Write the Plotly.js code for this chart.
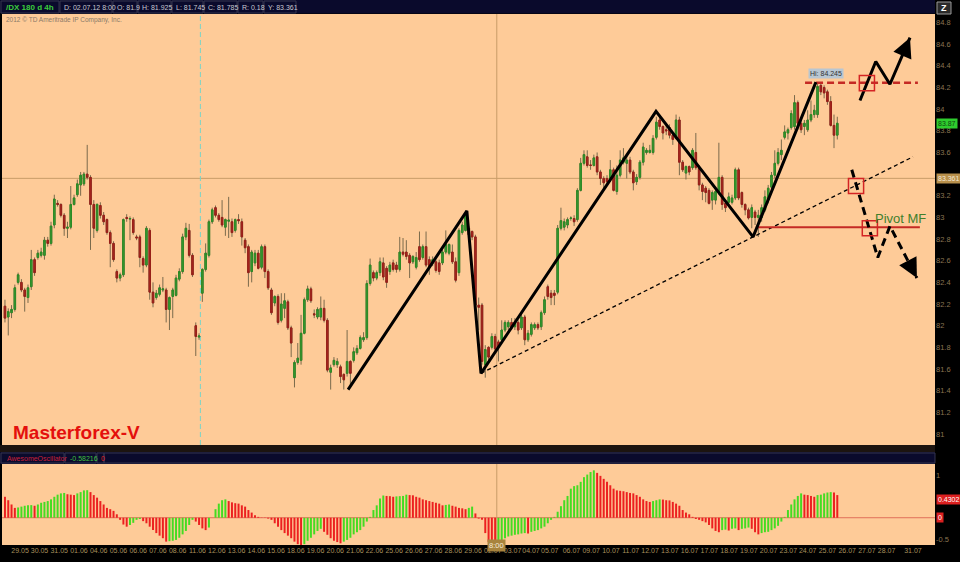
<!DOCTYPE html>
<html>
<head>
<meta charset="utf-8">
<script src="https://cdn.plot.ly/plotly-3.0.1.min.js"></script>
<style>
html,body{margin:0;padding:0;background:#000;}
#chart{width:960px;height:562px;}
</style>
</head>
<body>
<div id="chart"></div>
<script>
// ---------- DATA ----------
const open = [
82.18,82.08,82.12,82.15,82.40,82.40,82.33,82.26,82.36,82.61,
82.63,82.65,82.65,82.79,82.76,82.93,83.13,83.12,83.02,82.90,
82.91,83.12,83.21,83.30,83.31,83.40,83.37,83.12,82.88,83.11,
83.02,82.98,82.86,82.76,82.50,82.44,82.47,83.00,82.985,82.98,
82.82,82.82,82.62,82.56,82.88,82.31,82.26,82.29,82.33,82.33,
82.15,82.27,82.28,82.43,82.50,82.82,82.88,82.65,82.00,81.895,
82.30,82.52,82.65,82.96,83.09,83.02,83.00,82.91,82.965,82.96,
82.88,82.98,82.96,82.79,82.73,82.50,82.58,82.67,82.54,82.73,
82.50,82.33,82.21,82.27,82.05,82.16,82.22,81.98,81.52,81.66,
81.68,81.93,82.24,82.34,82.11,
82.08,82.08,82.16,82.05,81.57,81.64,81.64,81.62,81.55,81.56,
81.67,81.68,81.75,81.79,81.87,81.89,82.39,82.49,82.44,82.49,
82.58,82.53,82.50,82.58,82.56,82.52,82.68,82.68,82.65,82.59,
82.54,82.73,82.63,82.73,82.61,82.58,82.59,82.58,82.58,82.68,
82.67,82.68,82.59,82.49,82.86,82.88,82.90,82.87,82.82,82.19,
82.19,81.64,81.80,81.80,81.90,81.85,81.87,81.96,81.99,82.03,
81.99,82.03,81.98,82.08,81.87,81.92,81.98,82.01,81.99,82.12,
82.36,82.30,82.30,82.31,
82.90,82.91,82.93,82.99,82.99,82.98,83.25,83.50,83.56,83.485,
83.48,83.56,83.42,83.36,83.36,83.35,83.44,83.24,83.39,83.51,
83.50,83.53,83.42,83.33,83.37,83.51,83.60,83.60,83.60,83.74,
83.90,83.84,83.81,83.83,83.76,83.73,83.90,83.51,83.41,83.47,
83.46,83.60,83.46,83.30,83.27,83.25,83.16,83.16,83.24,83.37,
83.13,83.14,83.14,83.18,83.44,83.23,83.12,83.07,83.00,83.05,
83.00,
83.00,83.07,83.16,83.28,83.39,83.50,83.58,83.74,83.78,83.83,
83.84,84.06,83.87,83.84,83.81,83.90,83.95,83.95,84.22,84.20,
84.16,84.07,83.85,83.76
];
const high = [
82.24,82.16,82.19,82.38,82.49,82.43,82.35,82.38,82.70,82.63,
82.70,82.72,82.82,82.82,82.96,83.21,83.16,83.13,83.04,82.96,
83.29,83.21,83.35,83.42,83.42,83.67,83.39,83.16,83.13,83.14,
83.05,82.99,82.88,82.78,82.52,82.49,82.99,83.03,83.01,83.00,
82.84,82.84,82.64,82.92,82.90,82.40,82.33,82.38,82.45,82.35,
82.27,82.35,82.47,82.53,82.85,82.95,82.94,82.67,82.03,81.93,
82.53,82.76,82.98,83.09,83.11,83.04,83.16,82.99,83.19,82.99,
82.99,83.03,82.99,82.81,82.75,82.70,82.70,82.70,82.75,82.75,
82.52,82.35,82.28,82.29,82.30,82.30,82.24,82.00,81.68,81.84,
82.10,82.26,82.37,82.36,82.15,
82.17,82.27,82.24,82.07,81.64,81.71,81.70,81.64,81.56,81.96,
81.68,81.80,81.82,81.91,81.94,82.42,82.62,82.51,82.51,82.63,
82.63,82.55,82.59,82.61,82.59,82.82,82.81,82.79,82.67,82.65,
82.68,82.87,82.75,82.87,82.64,82.64,82.61,82.61,82.70,82.88,
82.76,82.75,82.63,82.90,82.96,83.06,82.92,82.88,82.84,82.26,
82.21,81.82,81.81,81.93,81.925,81.87,82.05,82.05,82.05,82.07,
82.07,82.05,82.13,82.10,81.96,82.03,82.03,82.03,82.14,82.27,
82.38,82.33,82.33,82.93,
83.09,82.99,83.00,83.01,83.02,83.27,83.55,83.62,83.62,83.53,
83.58,83.60,83.44,83.38,83.39,83.53,83.46,83.48,83.62,83.64,
83.58,83.56,83.44,83.40,83.53,83.69,83.64,83.67,83.76,83.93,
83.93,83.85,83.85,83.86,83.78,83.95,83.93,83.53,83.48,83.48,
83.64,83.78,83.48,83.32,83.29,83.27,83.25,83.27,83.69,83.39,
83.16,83.23,83.21,83.46,83.46,83.24,83.13,83.09,83.12,83.07,
83.07,
83.12,83.25,83.30,83.42,83.62,83.64,83.72,83.85,83.83,83.99,
84.13,84.08,83.90,83.90,83.99,84.08,84.04,84.24,84.245,84.22,
84.18,84.12,83.95,83.93
];
const low = [
82.03,81.91,82.07,82.13,82.38,82.31,82.13,82.21,82.33,82.46,
82.61,82.63,82.61,82.73,82.74,82.90,83.10,83.00,82.83,82.81,
82.89,83.11,83.19,83.20,83.29,83.35,82.70,82.81,82.86,82.99,
82.93,82.84,82.54,82.59,82.40,82.41,82.45,82.96,82.79,82.84,
82.79,82.54,82.49,82.54,82.24,82.17,82.24,82.27,82.31,82.03,
81.96,82.07,82.27,82.41,82.48,82.79,82.63,82.45,81.72,81.87,
82.22,82.50,82.63,82.94,83.00,82.96,82.91,82.83,82.81,82.82,
82.86,82.94,82.74,82.67,82.36,82.40,82.55,82.52,82.52,82.44,
82.33,82.10,82.18,82.01,82.03,82.07,81.96,81.71,81.43,81.64,
81.64,81.92,82.22,82.21,82.07,
82.06,82.05,82.03,81.57,81.41,81.62,81.61,81.47,81.41,81.53,
81.43,81.66,81.73,81.78,81.85,81.87,82.37,82.41,82.42,82.46,
82.42,82.35,82.47,82.50,82.49,82.50,82.64,82.61,82.44,82.57,
82.52,82.59,82.61,82.54,82.47,82.55,82.49,82.47,82.56,82.66,
82.65,82.57,82.40,82.46,82.84,82.87,82.82,82.79,82.16,81.96,
81.64,81.52,81.68,81.78,81.745,81.67,81.84,81.94,81.96,81.96,
81.96,81.92,81.96,81.82,81.85,81.90,81.96,81.96,81.96,82.10,
82.24,82.19,82.19,82.29,
82.88,82.88,82.90,82.97,82.92,82.96,83.24,83.48,83.46,83.44,
83.47,83.39,83.30,83.27,83.29,83.33,83.24,83.21,83.37,83.49,
83.36,83.40,83.25,83.30,83.35,83.48,83.58,83.59,83.58,83.72,
83.81,83.72,83.76,83.73,83.67,83.72,83.39,83.42,83.35,83.39,
83.44,83.44,83.25,83.16,83.14,83.12,83.07,83.12,83.21,83.07,
83.05,83.12,83.12,83.16,83.16,83.09,83.02,82.98,82.90,82.93,
82.82,
82.96,83.05,83.13,83.25,83.36,83.48,83.53,83.72,83.72,83.81,
83.81,83.81,83.78,83.76,83.79,83.88,83.92,83.92,84.13,84.10,
84.04,83.84,83.64,83.72
];
const close = [
82.07,82.13,82.15,82.35,82.47,82.33,82.27,82.35,82.61,82.49,
82.67,82.68,82.79,82.76,82.92,83.17,83.12,83.02,82.90,82.91,
83.12,83.18,83.31,83.39,83.40,83.37,83.12,82.90,83.12,83.02,
82.96,82.86,82.76,82.61,82.44,82.47,82.98,82.99,82.99,82.86,
82.81,82.63,82.56,82.90,82.31,82.21,82.30,82.35,82.34,82.15,
82.26,82.33,82.44,82.50,82.82,82.90,82.65,82.47,81.90,81.905,
82.52,82.67,82.96,83.07,83.02,82.98,82.93,82.98,82.975,82.86,
82.98,82.97,82.82,82.72,82.49,82.68,82.67,82.53,82.73,82.50,
82.35,82.12,82.27,82.03,82.20,82.23,81.98,81.84,81.66,81.70,
81.93,82.24,82.34,82.23,82.10,
82.15,82.16,82.05,81.59,81.61,81.68,81.67,81.53,81.50,81.67,
81.56,81.76,81.79,81.89,81.89,82.39,82.56,82.44,82.49,82.59,
82.45,82.40,82.56,82.52,82.52,82.68,82.66,82.64,82.58,82.64,
82.63,82.61,82.73,82.56,82.54,82.61,82.51,82.50,82.68,82.75,
82.75,82.59,82.42,82.88,82.93,83.02,82.84,82.82,82.19,82.17,
81.67,81.78,81.71,81.90,81.785,81.80,81.96,82.03,82.03,81.98,
82.03,81.96,82.08,81.87,81.93,82.01,82.01,81.98,82.12,82.24,
82.27,82.26,82.28,82.90,
82.97,82.96,82.98,82.995,82.96,83.25,83.50,83.58,83.48,83.48,
83.55,83.42,83.36,83.32,83.33,83.44,83.25,83.39,83.53,83.55,
83.53,83.42,83.32,83.37,83.51,83.65,83.62,83.62,83.73,83.88,
83.84,83.78,83.80,83.76,83.72,83.90,83.51,83.44,83.47,83.42,
83.62,83.46,83.30,83.24,83.23,83.13,83.23,83.24,83.37,83.12,
83.09,83.19,83.18,83.44,83.18,83.12,83.07,82.995,83.09,83.00,
83.02,
83.09,83.19,83.27,83.39,83.50,83.60,83.62,83.79,83.81,83.96,
84.06,83.87,83.81,83.87,83.90,83.95,83.99,84.21,84.16,84.15,
84.07,83.85,83.76,83.87
];

// Awesome Oscillator values, one per candle
const aoValues = [
0.49,0.41,0.31,0.23,0.24,0.26,0.28,0.29,0.295,0.28,
0.31,0.35,0.37,0.39,0.43,0.49,0.54,0.57,0.58,0.55,
0.54,0.53,0.57,0.60,0.64,0.645,0.60,0.53,0.47,0.39,
0.31,0.23,0.20,0.16,0.08,-0.05,-0.16,-0.21,-0.17,-0.12,
-0.05,-0.03,-0.08,-0.13,-0.21,-0.29,-0.36,-0.42,-0.48,-0.56,
-0.55,-0.54,-0.52,-0.47,-0.39,-0.31,-0.17,-0.05,-0.09,-0.17,
-0.25,-0.29,-0.23,0.00,0.20,0.33,0.41,0.43,0.39,0.36,
0.34,0.33,0.29,0.26,0.18,0.12,0.06,0.02,0.005,-0.005,
-0.02,-0.05,-0.13,-0.21,-0.29,-0.36,-0.42,-0.48,-0.56,-0.62,
-0.64,-0.62,-0.54,-0.47,-0.39,-0.31,-0.26,-0.33,-0.40,-0.48,
-0.54,-0.57,-0.60,-0.56,-0.52,-0.47,-0.39,-0.34,-0.29,-0.21,
-0.09,0.02,0.18,0.29,0.45,0.52,0.51,0.505,0.49,0.50,
0.505,0.51,0.54,0.53,0.525,0.49,0.47,0.43,0.41,0.39,
0.37,0.35,0.33,0.29,0.30,0.31,0.28,0.26,0.23,0.22,
0.20,0.23,0.26,0.10,
-0.02,-0.05,-0.36,-0.57,-0.64,-0.66,-0.62,-0.56,-0.48,-0.44,
-0.42,-0.40,-0.39,-0.37,-0.36,-0.37,-0.33,-0.31,-0.29,-0.25,
-0.21,-0.13,-0.05,0.02,0.14,0.27,0.41,0.51,0.68,0.74,
0.76,0.84,0.95,1.01,1.07,1.11,1.05,0.98,0.91,0.84,
0.76,0.68,0.64,0.63,0.62,0.60,0.58,0.57,0.53,0.49,
0.43,0.39,0.37,0.39,0.41,0.43,0.425,0.41,0.405,0.37,
0.33,0.28,0.18,0.12,0.08,0.02,-0.03,-0.05,-0.08,-0.11,
-0.17,-0.25,-0.31,-0.34,-0.29,-0.28,-0.30,-0.26,-0.25,-0.29,
-0.26,-0.25,-0.23,-0.26,-0.34,-0.39,-0.36,-0.34,-0.33,-0.29,
-0.25,-0.19,-0.09,0.02,0.18,0.31,0.43,0.51,0.57,0.54,
0.53,0.51,0.49,0.53,0.54,0.57,0.59,0.60,0.59,0.53,
0.4302
];

// date tick labels (one per trading day) and the bar position where each sits
const dayLabels = ['29.05','30.05','31.05','01.06','04.06','05.06','06.06','07.06','08.06','11.06',
'12.06','13.06','14.06','15.06','18.06','19.06','20.06','21.06','22.06','25.06','26.06','27.06',
'28.06','29.06','02.07','03.07','04.07','05.07','06.07','09.07','10.07','11.07','12.07','13.07',
'16.07','17.07','18.07','19.07','20.07','23.07','24.07','25.07','26.07','27.07','28.07','31.07'];
const dayPos = [4.6,10.5,16.5,22.5,28.5,34.5,40.5,46.5,52.5,58.5,
64.4,70.4,76.4,82.4,88.4,94.4,100.4,106.4,112.3,118.3,124.3,130.3,
136.3,142.3,148.3,154.3,159.9,165.6,172.2,178.2,184.2,190.2,196.1,202.1,
208.1,214.1,220.1,226.1,232.1,238.1,244.0,250.0,256.0,262.0,268.0,276.0];

// analyst drawing (bar position, price)
const zigzagIdx   = [104.3, 140.4, 144.7, 197.9, 227.4, 246.5];
const zigzagPrice = [81.41, 83.06, 81.56, 83.98, 82.82, 84.25];
const trendIdx    = [144.7, 276.0];
const trendPrice  = [81.56, 83.56];
const pivotIdx    = [228.6, 278.1];
const pivotPrice  = [82.91, 82.91];
const hiIdx       = [243.2, 277.5];
const hiPrice     = [84.245, 84.245];
const upIdx       = [259.9, 264.7, 269.0, 275.1];
const upPrice     = [84.08, 84.44, 84.23, 84.66];
const downIdx     = [257.4, 265.3, 269.0, 277.2];
const downPrice   = [83.44, 82.63, 82.92, 82.44];
const boxIdx      = [262.0, 258.7, 262.9];
const boxPrice    = [84.24, 83.29, 82.90];

const crossIdx = 149;          // crosshair candle 02.07.12 8:00
const crossPrice = 83.361;
const cyanLineIdx = 59.4;
// 83.4 sits under the crosshair value box in the reference, so it is not listed
const priceTicks = [81,81.2,81.4,81.6,81.8,82,82.2,82.4,82.6,82.8,83,83.2,83.6,83.8,84,84.2,84.4,84.6,84.8];

// ---------- STYLE ----------
const FONT = 'Liberation Sans, Arial, sans-serif';
const BG = '#fecb98';
const NAVY = '#0a0a2c';
const GREEN_BODY = '#3a9e32', RED_BODY = '#ac2a20';
const WICK = '#7a6a4c';
const AO_GREEN = '#44dc22', AO_RED = '#ec2020';

const L = 2, T = 14, W = 933, H = 531;
const PX = x => (x - L) / W;
const PY = y => (T + H - y) / H;

const barX = close.map((_, i) => i);
const bodyHigh = open.map((o, i) => Math.max(o, close[i]));
const bodyLow = open.map((o, i) => Math.min(o, close[i]));
const aoColors = aoValues.map((v, i) => (i > 0 && v > aoValues[i - 1]) ? AO_GREEN : AO_RED);

const traces = [
  { type: 'candlestick', x: barX, open: open, high: high, low: low, close: close,
    xaxis: 'x', yaxis: 'y', whiskerwidth: 0, hoverinfo: 'skip',
    increasing: { line: { color: WICK, width: 1 }, fillcolor: WICK },
    decreasing: { line: { color: WICK, width: 1 }, fillcolor: WICK } },
  { type: 'candlestick', x: barX, open: open, high: bodyHigh, low: bodyLow, close: close,
    xaxis: 'x', yaxis: 'y', whiskerwidth: 0, hoverinfo: 'skip',
    increasing: { line: { color: '#2c8a26', width: 1 }, fillcolor: GREEN_BODY },
    decreasing: { line: { color: '#981e18', width: 1 }, fillcolor: RED_BODY } },
  { type: 'scatter', mode: 'lines', x: trendIdx, y: trendPrice, xaxis: 'x', yaxis: 'y',
    line: { color: '#000', width: 1.3, dash: '4px,3px' }, hoverinfo: 'skip' },
  { type: 'scatter', mode: 'lines', x: pivotIdx, y: pivotPrice, xaxis: 'x', yaxis: 'y',
    line: { color: '#c42a24', width: 2 }, hoverinfo: 'skip' },
  { type: 'scatter', mode: 'lines', x: hiIdx, y: hiPrice, xaxis: 'x', yaxis: 'y',
    line: { color: '#c42a24', width: 2.5, dash: '7px,4px' }, hoverinfo: 'skip' },
  { type: 'scatter', mode: 'lines', x: zigzagIdx, y: zigzagPrice, xaxis: 'x', yaxis: 'y',
    line: { color: '#000', width: 3 }, hoverinfo: 'skip' },
  { type: 'scatter', mode: 'lines', x: upIdx, y: upPrice, xaxis: 'x', yaxis: 'y',
    line: { color: '#000', width: 3 }, hoverinfo: 'skip' },
  { type: 'scatter', mode: 'lines', x: downIdx, y: downPrice, xaxis: 'x', yaxis: 'y',
    line: { color: '#000', width: 3, dash: '8px,5px' }, hoverinfo: 'skip' },
  { type: 'bar', x: barX, y: aoValues, xaxis: 'x', yaxis: 'y2', width: 0.6,
    marker: { color: aoColors, line: { width: 0 } }, hoverinfo: 'skip' }
];

const shapes = [
  // header bar
  { type: 'rect', xref: 'paper', yref: 'paper', x0: PX(0), x1: PX(935), y0: PY(13.5), y1: PY(0), fillcolor: NAVY, line: { width: 0 }, layer: 'above' },
  // oscillator header bar and separator
  { type: 'rect', xref: 'paper', yref: 'paper', x0: PX(0), x1: PX(935), y0: PY(452), y1: PY(445), fillcolor: '#1c1410', line: { width: 0 } },
  { type: 'rect', xref: 'paper', yref: 'paper', x0: PX(0), x1: PX(935), y0: PY(464), y1: PY(452), fillcolor: NAVY, line: { width: 0 } },
  // zero line of oscillator
  { type: 'line', xref: 'paper', yref: 'y2', x0: 0, x1: 1, y0: 0, y1: 0, line: { color: '#e0705a', width: 1 }, layer: 'below' },
  // crosshair
  { type: 'line', xref: 'x', yref: 'y domain', x0: crossIdx + 0.5, x1: crossIdx + 0.5, y0: 0, y1: 1, line: { color: '#c89c68', width: 1 }, layer: 'below' },
  { type: 'line', xref: 'x', yref: 'y2 domain', x0: crossIdx + 0.5, x1: crossIdx + 0.5, y0: 0, y1: 1, line: { color: '#c89c68', width: 1 }, layer: 'below' },
  { type: 'line', xref: 'paper', yref: 'y', x0: 0, x1: 1, y0: crossPrice, y1: crossPrice, line: { color: '#c89c68', width: 1 }, layer: 'below' },
  // cyan dashed vertical
  { type: 'line', xref: 'x', yref: 'y domain', x0: cyanLineIdx, x1: cyanLineIdx, y0: 0, y1: 1, line: { color: '#78d4c8', width: 1, dash: '5px,3px' }, layer: 'below' },
  // Z icon
  { type: 'rect', xref: 'paper', yref: 'paper', x0: PX(937), x1: PX(951), y0: PY(14), y1: PY(2), fillcolor: '#2a2a2a', line: { color: '#9a9a9a', width: 1 } }
];
// header boxes
[[1,59],[60,112],[113,137],[138,171],[172,203],[204,237],[238,263],[264,296]].forEach(b => {
  shapes.push({ type: 'rect', xref: 'paper', yref: 'paper', x0: PX(b[0]), x1: PX(b[1]), y0: PY(13), y1: PY(1),
    fillcolor: 'rgba(0,0,0,0)', line: { color: '#34344e', width: 1 }, layer: 'above' });
});
[[1,64],[65,96],[97,104],[104,935]].forEach(b => {
  shapes.push({ type: 'rect', xref: 'paper', yref: 'paper', x0: PX(b[0]), x1: PX(b[1]), y0: PY(463), y1: PY(453),
    fillcolor: 'rgba(0,0,0,0)', line: { color: '#34344e', width: 1 } });
});
// red squares
boxIdx.forEach((bx, i) => {
  shapes.push({ type: 'rect', xref: 'x', yref: 'y', x0: bx - 2.3, x1: bx + 2.3, y0: boxPrice[i] - 0.07, y1: boxPrice[i] + 0.07,
    line: { color: '#d42424', width: 1.5 }, fillcolor: 'rgba(0,0,0,0)', layer: 'above' });
});

const hdr = (text, x, color, size, bold) => ({
  xref: 'paper', yref: 'paper', x: PX(x), y: PY(7), xanchor: 'left', yanchor: 'middle', showarrow: false,
  text: bold ? '<b>' + text + '</b>' : text, font: { family: FONT, size: size, color: color }
});
const rLabel = (yref, y, text, bg, color) => ({
  xref: 'paper', yref: yref, x: 1, y: y, xanchor: 'left', yanchor: 'middle', xshift: 1, showarrow: false,
  text: text, bgcolor: bg, borderpad: 1, font: { family: FONT, size: 7, color: color }
});

const annotations = [
  hdr('/DX 180 d 4h', 4, '#3ccc3c', 8, true),
  hdr('D: 02.07.12 8:00', 62, '#c8c8d0', 7),
  hdr('O: ' + open[crossIdx], 115, '#c8c8d0', 7),
  hdr('H: ' + high[crossIdx], 140, '#c8c8d0', 7),
  hdr('L: ' + low[crossIdx], 174, '#c8c8d0', 7),
  hdr('C: ' + close[crossIdx], 206, '#c8c8d0', 7),
  hdr('R: ' + (high[crossIdx] - low[crossIdx]).toFixed(2), 240, '#c8c8d0', 7),
  hdr('Y: ' + crossPrice, 266, '#c8c8d0', 7),
  { xref: 'paper', yref: 'paper', x: PX(944), y: PY(8), xanchor: 'center', yanchor: 'middle', showarrow: false,
    text: '<b>Z</b>', font: { family: FONT, size: 9, color: '#ffffff' } },
  { xref: 'paper', yref: 'paper', x: PX(4), y: PY(20), xanchor: 'left', yanchor: 'middle', showarrow: false,
    text: '2012 © TD Ameritrade IP Company, Inc.', font: { family: FONT, size: 6.5, color: '#8a7a68' } },
  { xref: 'paper', yref: 'paper', x: PX(5), y: PY(458), xanchor: 'left', yanchor: 'middle', showarrow: false,
    text: 'AwesomeOscillator', font: { family: FONT, size: 7, color: '#c8203a' } },
  { xref: 'paper', yref: 'paper', x: PX(68), y: PY(458), xanchor: 'left', yanchor: 'middle', showarrow: false,
    text: '-0.58216', font: { family: FONT, size: 7, color: '#40c040' } },
  { xref: 'paper', yref: 'paper', x: PX(98.5), y: PY(458), xanchor: 'left', yanchor: 'middle', showarrow: false,
    text: '0', font: { family: FONT, size: 7, color: '#e02020' } },
  { xref: 'paper', yref: 'paper', x: PX(11), y: PY(432), xanchor: 'left', yanchor: 'middle', showarrow: false,
    text: '<b>Masterforex-V</b>', font: { family: FONT, size: 19, color: '#e4100c' } },
  { xref: 'x', yref: 'y', x: 263.8, y: pivotPrice[0], xanchor: 'left', yanchor: 'bottom', yshift: -1, showarrow: false,
    text: 'Pivot MF', font: { family: FONT, size: 13, color: '#3f7f2c' } },
  { xref: 'x', yref: 'y', x: 249.5, y: Math.max(...high), yshift: 9, showarrow: false,
    text: 'Hi: 84.245', bgcolor: '#b8c6d2', borderpad: 1, font: { family: FONT, size: 7, color: '#333333' } },
  // arrow heads
  { xref: 'x', yref: 'y', x: upIdx[3], y: upPrice[3], ax: -5.5, ay: 13, showarrow: true, text: '',
    arrowhead: 2, arrowsize: 1.3, arrowwidth: 3, arrowcolor: '#000' },
  { xref: 'x', yref: 'y', x: downIdx[3], y: downPrice[3], ax: -6.5, ay: -12.4, showarrow: true, text: '',
    arrowhead: 2, arrowsize: 1.3, arrowwidth: 3, arrowcolor: '#000' },
  // right-axis value boxes
  rLabel('y', close[close.length - 1], '83.87', '#2ecc2e', '#0e4a0e'),
  rLabel('y', crossPrice, '83.361', '#b8904c', '#f4ead8'),
  rLabel('y2', aoValues[aoValues.length - 1], '0.4302', '#dc2020', '#ffffff'),
  rLabel('y2', 0, '0', '#dc2020', '#ffffff'),
  // crosshair time box
  { xref: 'x', yref: 'paper', x: crossIdx + 0.5, y: PY(551.5), showarrow: false, text: '8:00',
    bgcolor: '#a8843e', borderpad: 1, font: { family: FONT, size: 7.5, color: '#f4ead8' } }
];

const layout = {
  width: 960, height: 562,
  margin: { l: L, r: 960 - L - W, t: T, b: 562 - T - H, pad: 0 },
  paper_bgcolor: '#000000',
  plot_bgcolor: BG,
  showlegend: false,
  boxgap: 0.35,
  font: { family: FONT },
  xaxis: {
    range: [-0.9, 282.7], anchor: 'y2', tickvals: dayPos, ticktext: dayLabels,
    tickfont: { family: FONT, size: 7, color: '#a8905c' }, ticks: '', showgrid: false,
    zeroline: false, showline: false, rangeslider: { visible: false }, fixedrange: true, tickangle: 0
  },
  yaxis: {
    domain: [PY(445), 1], range: [80.898, 84.879], side: 'right', tickvals: priceTicks,
    tickfont: { family: FONT, size: 7.5, color: '#8a7450' }, ticks: '', showgrid: false,
    zeroline: false, showline: false, fixedrange: true
  },
  yaxis2: {
    domain: [0, PY(464)], range: [-0.639, 1.258], side: 'right', tickvals: [1, -0.5], ticktext: ['1', '-0.5'],
    tickfont: { family: FONT, size: 7.5, color: '#8a7450' }, ticks: '', showgrid: false,
    zeroline: false, showline: false, fixedrange: true, anchor: 'x'
  },
  shapes: shapes,
  annotations: annotations
};

Plotly.newPlot('chart', traces, layout, { staticPlot: true, displayModeBar: false });
</script>
</body>
</html>
